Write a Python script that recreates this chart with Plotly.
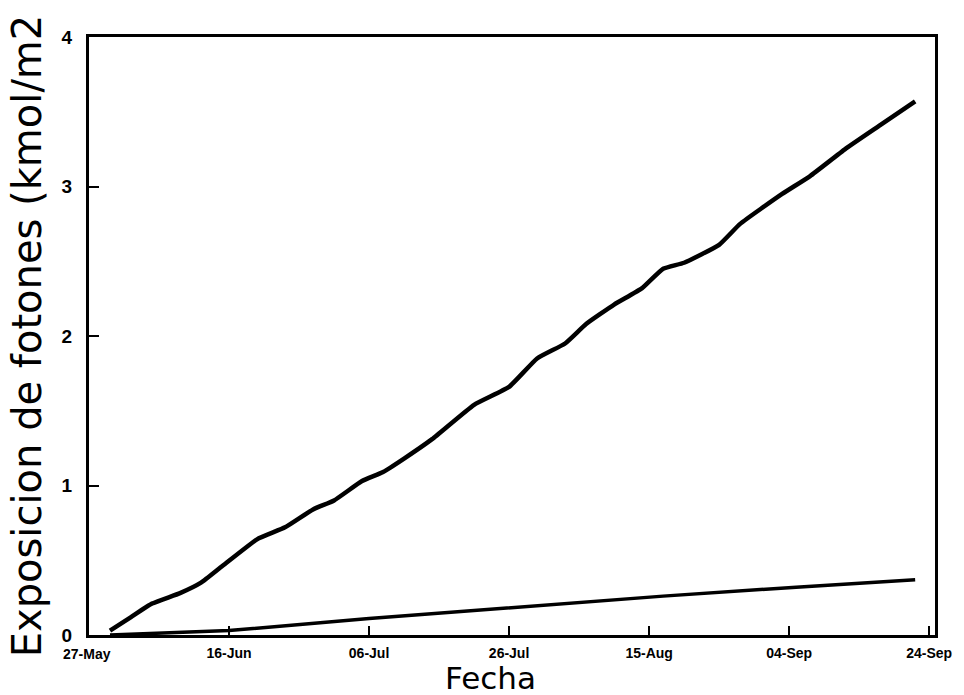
import plotly.graph_objects as go

# Upper series: cumulative photon exposure (kmol/m2)
upper_dates = ["1998-05-30", "1998-06-02", "1998-06-05", "1998-06-09", "1998-06-12",
               "1998-06-15", "1998-06-20", "1998-06-24", "1998-06-28", "1998-07-01",
               "1998-07-05", "1998-07-08", "1998-07-11", "1998-07-15", "1998-07-21",
               "1998-07-26", "1998-07-30", "1998-08-03", "1998-08-06", "1998-08-10",
               "1998-08-14", "1998-08-17", "1998-08-20", "1998-08-25", "1998-08-28",
               "1998-09-03", "1998-09-07", "1998-09-12", "1998-09-17", "1998-09-22"]
upper_values = [0.03, 0.12, 0.21, 0.28, 0.35,
                0.46, 0.64, 0.72, 0.84, 0.90,
                1.03, 1.09, 1.18, 1.31, 1.54,
                1.66, 1.85, 1.95, 2.08, 2.21,
                2.32, 2.45, 2.49, 2.61, 2.75,
                2.95, 3.07, 3.25, 3.41, 3.57]

# Lower series
lower_dates = ["1998-05-30", "1998-06-16", "1998-07-06", "1998-07-26",
               "1998-08-17", "1998-09-05", "1998-09-22"]
lower_values = [0.00, 0.03, 0.11, 0.18, 0.26, 0.32, 0.37]

# Axis ticks
x_tick_vals = ["1998-05-27", "1998-06-16", "1998-07-06", "1998-07-26",
               "1998-08-15", "1998-09-04", "1998-09-24"]
x_tick_text = ["", "16-Jun", "06-Jul", "26-Jul", "15-Aug", "04-Sep", "24-Sep"]
first_tick_label = "27-May"
y_tick_vals = [0, 1, 2, 3, 4]

x_title = "Fecha"
y_title = "Exposicion de fotones (kmol/m2"

tick_font = dict(family="Liberation Sans, Arial", size=14, color="black", weight="bold")

fig = go.Figure()
fig.add_trace(go.Scatter(x=upper_dates, y=upper_values, mode="lines",
                         line=dict(color="black", width=4.5, shape="spline", smoothing=0.4),
                         showlegend=False))
fig.add_trace(go.Scatter(x=lower_dates, y=lower_values, mode="lines",
                         line=dict(color="black", width=3.5), showlegend=False))

fig.add_annotation(x=x_tick_vals[0], y=0, xref="x", yref="y", text=first_tick_label,
                   showarrow=False, yshift=-9, xshift=-2, yanchor="top",
                   font=tick_font)
fig.add_annotation(x=0.475, y=0, xref="paper", yref="paper", text=x_title,
                   showarrow=False, yanchor="bottom", yshift=-63,
                   font=dict(family="DejaVu Sans, Liberation Sans", size=31, color="black"))

fig.update_layout(
    width=964, height=695,
    margin=dict(l=89, r=29, t=37, b=60),
    paper_bgcolor="white", plot_bgcolor="white",
    xaxis=dict(
        type="date",
        range=["1998-05-27", "1998-09-24 20:00"],
        tickmode="array", tickvals=x_tick_vals, ticktext=x_tick_text,
        ticks="inside", ticklen=9, tickwidth=2, tickcolor="black",
        ticklabelstandoff=3,
        showline=True, linecolor="black", linewidth=3, mirror=True,
        showgrid=False, zeroline=False,
        tickfont=tick_font,
    ),
    yaxis=dict(
        range=[0, 4],
        tickmode="array", tickvals=y_tick_vals,
        ticks="inside", ticklen=10, tickwidth=2, tickcolor="black",
        ticklabelstandoff=10,
        showline=True, linecolor="black", linewidth=3, mirror=True,
        showgrid=False, zeroline=False,
        tickfont=dict(family="Liberation Sans, Arial", size=19, color="black", weight="bold"),
        title=dict(text=y_title, standoff=8,
                   font=dict(family="DejaVu Sans, Liberation Sans", size=40, color="black")),
    ),
)

fig.write_html("out.html")
